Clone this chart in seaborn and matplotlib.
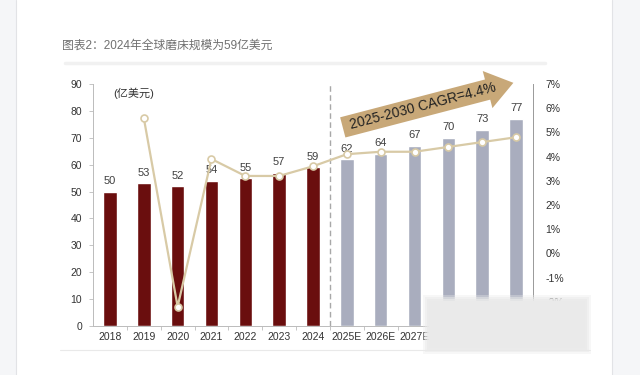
import numpy as np
import pandas as pd
import matplotlib
matplotlib.use("Agg")
import matplotlib.pyplot as plt
from matplotlib.patches import FancyArrowPatch, Rectangle
from matplotlib.lines import Line2D
from matplotlib.ticker import FuncFormatter
import seaborn as sns

# ---- data ----
years = ["2018", "2019", "2020", "2021", "2022", "2023", "2024",
         "2025E", "2026E", "2027E", "2028E", "2029E", "2030E"]
market = [50, 53, 52, 54, 55, 57, 59, 62, 64, 67, 70, 73, 77]
growth = [np.nan, 5.6, -2.2, 3.9, 3.2, 3.2, 3.6, 4.1, 4.2, 4.2, 4.4, 4.6, 4.8]
kind = ["实际"] * 7 + ["预测"] * 6
title = "图表2：2024年全球磨床规模为59亿美元"
unit_label = "(亿美元)"
cagr_label = "2025-2030 CAGR=4.4%"
left_ticks = list(range(0, 91, 10))
right_ticks = list(range(-3, 8))

sns.set_theme(style="white")
plt.rcParams["font.family"] = ["Liberation Sans", "Noto Sans CJK SC", "DejaVu Sans"]

df = pd.DataFrame({"year": years, "market": market, "kind": kind,
                   "pos": np.arange(len(years)), "growth": growth})

fig = plt.figure(figsize=(6.4, 3.75), dpi=100)
fig.patch.set_facecolor("white")

# page decoration
fig.add_artist(Rectangle((0, 0), 16 / 640, 1, transform=fig.transFigure,
                         facecolor="#F5F6F8", edgecolor="none", zorder=-5))
fig.add_artist(Line2D([16 / 640, 16 / 640], [0, 1], transform=fig.transFigure,
                      color="#E2E3E6", lw=0.8, zorder=-4))
fig.add_artist(Rectangle((612 / 640, 0), 28 / 640, 1, transform=fig.transFigure,
                         facecolor="#F5F6F8", edgecolor="none", zorder=-5))
fig.add_artist(Line2D([612 / 640, 612 / 640], [0, 1], transform=fig.transFigure,
                      color="#E2E3E6", lw=0.8, zorder=-4))
fig.add_artist(Line2D([65 / 640, 545 / 640], [1 - 63 / 375, 1 - 63 / 375],
                      transform=fig.transFigure, color="#F1F1F1", lw=2.5, zorder=-4))
fig.add_artist(Line2D([60 / 640, 590 / 640], [1 - 350 / 375, 1 - 350 / 375],
                      transform=fig.transFigure, color="#E9E9E9", lw=0.8, zorder=-4))
fig.text(62 / 640, 1 - 46 / 375, title, fontsize=8.5, color="#707070",
         va="center", ha="left")

ax = fig.add_axes([93 / 640, 49 / 375, 440 / 640, 242 / 375])
ax.set_facecolor("none")

bar_colors = {"实际": "#6A0E0E", "预测": "#A9ADBE"}
sns.barplot(data=df, x="year", y="market", hue="kind", palette=bar_colors,
            dodge=False, width=0.4, legend=False, ax=ax, saturation=1)
for cont in ax.containers:
    ax.bar_label(cont, fmt="%g", padding=4, fontsize=8, color="#404040")

ax.set_ylim(0, 90)
ax.set_xlim(-0.5, len(years) - 0.5)
ax.set_yticks(left_ticks)
ax.set_xlabel("")
ax.set_ylabel("")
ax.tick_params(axis="y", labelsize=7.5, labelcolor="#333333", length=3,
               color="#BBBBBB", width=0.6, pad=5, left=True)
ax.tick_params(axis="x", labelsize=7.5, labelcolor="#333333", length=0, pad=4)
ax.set_xticks(np.arange(len(years)) + 0.5, minor=True)
ax.tick_params(axis="x", which="minor", length=3, color="#BBBBBB", width=0.6, bottom=True)
for s in ["top", "right"]:
    ax.spines[s].set_visible(False)
for s in ["left", "bottom"]:
    ax.spines[s].set_color("#BBBBBB")
    ax.spines[s].set_linewidth(0.7)

ax.axvline(6.5, color="#A8A8A8", lw=1.0, ls=(0, (4, 2.5)), zorder=0.5)
ax.text(0.045, 0.96, unit_label, transform=ax.transAxes, fontsize=8,
        color="#333333", ha="left", va="center")

# growth line on right axis
ax2 = ax.twinx()
sns.lineplot(data=df.dropna(), x="pos", y="growth", ax=ax2, color="#D8CAA6",
             lw=1.6, marker="o", markersize=5, markerfacecolor="white",
             markeredgecolor="#D8CAA6", markeredgewidth=1.2, zorder=3)
ax2.set_ylim(-3, 7)
ax2.set_yticks(right_ticks)
ax2.yaxis.set_major_formatter(FuncFormatter(lambda v, p: f"{v:.0f}%"))
ax2.set_ylabel("")
ax2.set_xlabel("")
ax2.tick_params(axis="y", labelsize=7.5, labelcolor="#333333", length=0, pad=9)
for s in ["top", "left", "bottom"]:
    ax2.spines[s].set_visible(False)
ax2.spines["right"].set_color("#999999")
ax2.spines["right"].set_linewidth(0.7)
ax2.set_xlim(-0.5, len(years) - 0.5)

# CAGR arrow
arrow = FancyArrowPatch((6.8, 73.6), (12.0, 90.7), transform=ax.transData,
                        arrowstyle="simple,head_length=1.6,head_width=2.3,tail_width=1.25",
                        mutation_scale=12, facecolor="#C8A878", edgecolor="none",
                        clip_on=False, zorder=4)
ax2.add_patch(arrow)
ax2.text(9.25, 81.6, cagr_label, transform=ax.transData, rotation=14.6,
         rotation_mode="anchor", fontsize=10, color="#222222", ha="center",
         va="center", zorder=5)

# blurred cover patch
for i, a in enumerate([0.35, 0.5, 0.7, 1.0]):
    d = (3 - i) * 2
    fig.add_artist(Rectangle(((429 - d) / 640, (27 - d) / 375), (156 + 2 * d) / 640,
                             (47 + 2 * d) / 375, transform=fig.transFigure,
                             facecolor="#EAEAEA", edgecolor="none", alpha=a, zorder=10))

fig.savefig("out.png", dpi=100)
